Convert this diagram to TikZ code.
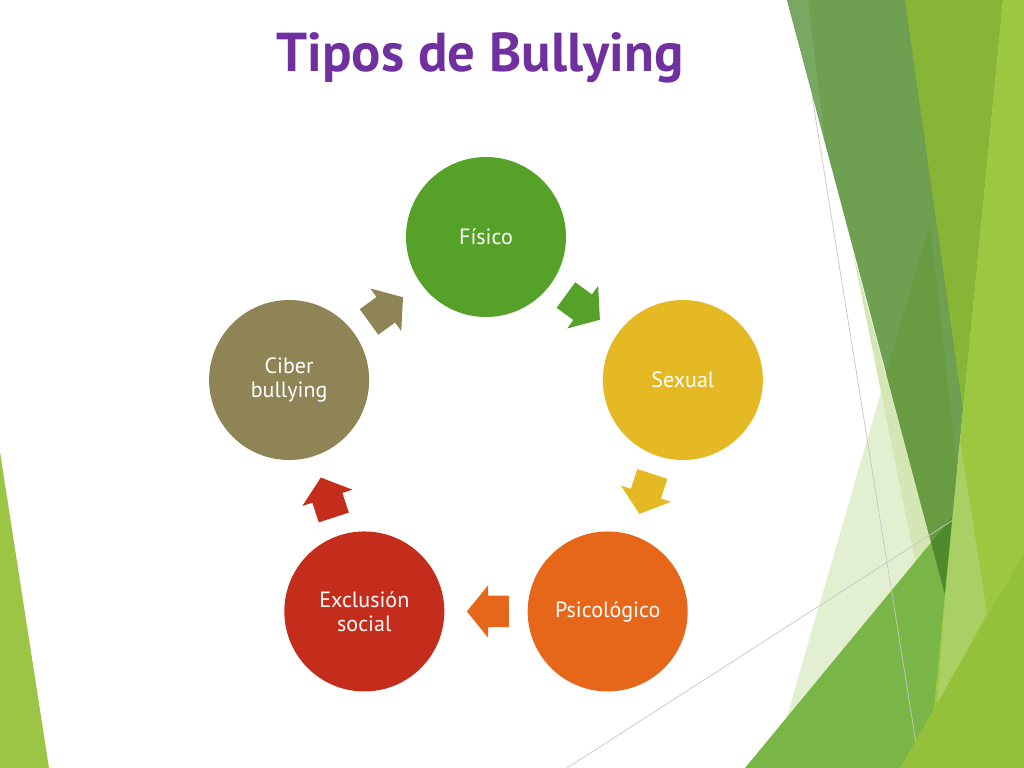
\documentclass[tikz,border=0pt]{standalone}
\usepackage{fontspec}
\setmainfont{PT Sans}
\usetikzlibrary{shapes.arrows}

\definecolor{titellila}{HTML}{7030A0}
\definecolor{gruen}{HTML}{56A128}
\definecolor{gold}{HTML}{E4B923}
\definecolor{orange}{HTML}{E6661A}
\definecolor{rot}{HTML}{C42D1B}
\definecolor{oliv}{HTML}{8E8455}
\definecolor{dunkel}{HTML}{6F9F50}
\definecolor{dunkelhell}{HTML}{78A861}
\definecolor{dunkelT}{HTML}{689B42}
\definecolor{dunkelG}{HTML}{4F8B2C}
\definecolor{mittel}{HTML}{87B535}
\definecolor{hell}{HTML}{9BC840}
\definecolor{hellrand}{HTML}{9CC445}
\definecolor{licht}{HTML}{A8D064}
\definecolor{unten}{HTML}{93C23A}
\definecolor{wiese}{HTML}{7AB547}
\definecolor{blass}{HTML}{E3EFD1}
\definecolor{blassgruen}{HTML}{D4E6B4}

\def\px{0.703125pt}

\begin{document}
\begin{tikzpicture}[x=\px,y=\px,
	kreis/.style={circle,minimum size=160*\px,inner sep=0pt,text=white,align=center,font=\fontsize{15.5}{17}\selectfont},
	pfeil/.style={single arrow,draw=none,inner xsep=0pt,inner ysep=15.5*\px,minimum height=42*\px,
		single arrow head extend=10.5*\px,single arrow tip angle=102,sloped,allow upside down,pos=0.4}]

\useasboundingbox (0,0) rectangle (1024,768);
\fill[white] (0,0) rectangle (1024,768);

\def\facetT{(930,545)--(772,0)--(990,0)--cycle}
\def\facetD{(787,768)--(1003,768)--(945,173)--cycle}
\def\facetG{(745,0)--(1024,338)--(1024,0)--cycle}

% facets
\fill[color=hellrand] (0,316)--(49,0)--(0,0)--cycle;
\fill[color=blass] \facetT;
\fill[color=blassgruen] (853,515)--(925,158)--(945,173)--cycle;
\fill[color=dunkel] \facetD;
\fill[color=dunkelhell] (787,768)--(808,768)--(825,628)--cycle;
\begin{scope}
	\clip \facetD;
	\fill[color=dunkelT] \facetT;
\end{scope}
\fill[color=mittel] (905,768)--(1003,768)--(963,358)--cycle;
\fill[color=wiese] \facetG;
\begin{scope}
	\clip \facetD;
	\fill[color=dunkelG] \facetG;
\end{scope}
\draw[color=black!22,line width=0.5pt] (812,672)--(920,0);
\draw[color=black!22,line width=0.5pt] (567,0)--(953,248);
\fill[color=hell] (1003,768)--(1024,768)--(1024,0)--(928,0)--cycle;
\fill[color=licht] (960,328)--(987,155)--(937,63)--(945,168)--cycle;
\fill[color=unten] (900,0)--(1024,215)--(1024,0)--cycle;

\node[text=titellila,font=\fontsize{38.5}{40}\bfseries\selectfont,anchor=base] (titel) at (480,696) {Tipos de Bullying};

% cycle
\begin{scope}[shift={(486,324)}]
	\node[kreis,fill=gruen] (fisico) at (90:207) {Físico};
	\node[kreis,fill=gold] (sexual) at (18:207) {Sexual};
	\node[kreis,fill=orange] (psico) at (-54:207) {Psicológico};
	\node[kreis,fill=rot] (exclusion) at (-126:207) {Exclusión\\social};
	\node[kreis,fill=oliv] (ciber) at (162:207) {Ciber\\bullying};
\end{scope}

\path (fisico) -- (sexual) node[pfeil,fill=gruen] (p1) {};
\path (sexual) -- (psico) node[pfeil,fill=gold] (p2) {};
\path (psico) -- (exclusion) node[pfeil,fill=orange] (p3) {};
\path (exclusion) -- (ciber) node[pfeil,fill=rot] (p4) {};
\path (ciber) -- (fisico) node[pfeil,fill=oliv] (p5) {};

\end{tikzpicture}
\end{document}
